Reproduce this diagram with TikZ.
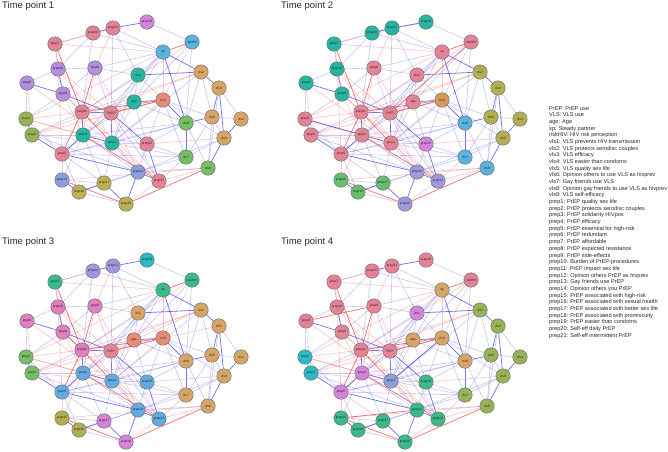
\documentclass[tikz,border=0pt]{standalone}
\usepackage{fontspec}
\setmainfont{Liberation Sans}
\pgfdeclarelayer{edges}
\pgfsetlayers{edges,main}
\definecolor{cpink}{RGB}{229,131,150}
\definecolor{csalmon}{RGB}{228,140,118}
\definecolor{cpurple}{RGB}{181,142,224}
\definecolor{cmagenta}{RGB}{212,132,218}
\definecolor{cteal}{RGB}{38,182,160}
\definecolor{csky}{RGB}{90,178,222}
\definecolor{ctan}{RGB}{214,165,102}
\definecolor{cgreen}{RGB}{118,190,100}
\definecolor{colive}{RGB}{152,178,88}
\definecolor{cmustard}{RGB}{176,176,82}
\definecolor{cperi}{RGB}{140,158,222}
\definecolor{ckhaki}{RGB}{188,176,82}
\definecolor{clav}{RGB}{162,152,222}
\definecolor{cmint}{RGB}{102,190,112}
\definecolor{corange}{RGB}{214,152,92}
\definecolor{ccyan}{RGB}{44,186,198}
\definecolor{csea}{RGB}{58,186,140}
\definecolor{crosemag}{RGB}{224,126,190}
\definecolor{cblue}{RGB}{96,172,226}
\definecolor{cedgepos}{RGB}{60,60,230}
\definecolor{cedgeneg}{RGB}{236,60,60}
\definecolor{ctext}{RGB}{40,40,40}
\tikzset{
  varnode/.style={
    circle,
    draw=black!60,
    line width=0.4pt,
    minimum size=14.5pt,
    inner sep=0pt,
    font=\fontsize{3.3}{3.3}\selectfont,
    text=black!85
  },
  posS/.style={draw=cedgepos, line width=0.75pt, draw opacity=0.7},
  posF/.style={draw=cedgepos, line width=0.65pt, draw opacity=0.28},
  negS/.style={draw=cedgeneg, line width=0.75pt, draw opacity=0.7},
  negF/.style={draw=cedgeneg, line width=0.65pt, draw opacity=0.28},
  paneltitle/.style={anchor=west, inner sep=0pt, font=\fontsize{9.5}{11}\selectfont, text=ctext},
  legendtext/.style={anchor=north west, inner sep=0pt, align=left, text=ctext,
    font=\fontsize{5.6}{6.68}\selectfont}
}

\begin{document}
\begin{tikzpicture}[x=1pt,y=-1pt]
  \useasboundingbox (0,0) rectangle (668,451);
  % panel titles
  \node[paneltitle] (t1) at (2,6) {Time point 1};
  \node[paneltitle] (t2) at (281,6) {Time point 2};
  \node[paneltitle] (t3) at (2,242) {Time point 3};
  \node[paneltitle] (t4) at (281,242) {Time point 4};
  % same layout in every panel, colours per time point
  \foreach \n/\x/\y/\ca/\cb/\cc/\cd in {
      prep19/147/22/cmagenta/cteal/ccyan/cpink,
      prep21/113/28/cpink/cteal/clav/cpink,
      prep20/93/33/cpink/cteal/clav/cpink,
      prep7/55/44/cpink/cteal/csea/cpink,
      riskHIV/192/42/csky/cpink/csea/cpink,
      sp/163/52/csky/cpink/csea/ctan,
      prep10/58/69/cpurple/cteal/crosemag/cpink,
      prep6/95/68/cpurple/cpink/crosemag/cpink,
      vls1/138/75/cteal/cpink/ctan/cmagenta,
      vls2/201/72/ctan/cmustard/ctan/colive,
      prep8/27/83/cpurple/cteal/crosemag/cpink,
      prep9/63/94/cpurple/cteal/crosemag/cpink,
      vls3/219/88/ctan/cmustard/ctan/colive,
      age/134/102/cteal/cpink/csalmon/ctan,
      VLS/163/100/csalmon/corange/csalmon/ctan,
      prep11/82/112/cpink/cpink/crosemag/cpink,
      PrEP/111/113/cpink/cpink/cpink/cpink,
      prep2/26/119/colive/cpink/cgreen/ccyan,
      vls8/186/123/cgreen/csky/ctan/ctan,
      vls5/212/117/ctan/cmustard/ctan/colive,
      vls4/241/119/ctan/cmustard/ctan/colive,
      prep3/32/135/colive/cpink/cgreen/ccyan,
      prep4/83/135/cteal/cpink/cblue/cmagenta,
      prep1/112/143/cteal/cpink/cblue/cperi,
      prep13/147/144/cpink/cmagenta/cblue/csea,
      vls9/224/138/ctan/cmustard/ctan/colive,
      prep5/62/154/cpink/cpink/cblue/cmagenta,
      vls7/186/157/cgreen/csky/ctan/colive,
      vls6/208/168/cgreen/csky/ctan/colive,
      prep14/138/172/cperi/clav/cblue/csea,
      prep12/159/181/cpink/clav/cblue/csea,
      prep15/62/180/cperi/cmint/cmustard/csea,
      prep17/104/183/ckhaki/cmint/cmagenta/csea,
      prep16/79/192/ckhaki/cmint/cmustard/csea,
      prep18/126/204/ckhaki/clav/cmagenta/csea}{
    \node[varnode, fill=\ca] (a-\n) at (\x,\y) {\n};
    \node[varnode, fill=\cb] (b-\n) at (\x+279,\y) {\n};
    \node[varnode, fill=\cc] (c-\n) at (\x,\y+238) {\n};
    \node[varnode, fill=\cd] (d-\n) at (\x+279,\y+238) {\n};
  }
  \begin{pgfonlayer}{edges}
    \foreach \p in {a,b,c,d}{
      \foreach \u/\v/\s in {
          prep21/prep19/posS, prep20/prep21/posS, prep7/prep20/posF, prep7/prep21/negF,
          prep7/sp/negF, prep21/PrEP/posF, prep21/prep6/negF, prep21/vls1/posF,
          prep20/prep10/posF, prep20/prep11/posF, prep7/prep10/posF, prep7/prep11/negS,
          prep7/prep9/negF, prep10/prep8/posF, prep10/prep9/posS, prep10/prep5/negF,
          prep10/PrEP/negF, prep10/prep6/posF, prep6/prep11/negS, prep6/prep4/negF,
          prep6/prep9/posF, prep6/vls1/posF, prep8/prep9/posS, prep8/prep3/negF,
          prep8/prep2/posF, prep9/PrEP/posS, prep9/prep11/posF, prep9/prep2/posF,
          prep9/prep4/negF, sp/riskHIV/negS, sp/vls1/posF, sp/vls2/posS,
          sp/VLS/negF, sp/age/posF, sp/vls8/posS, sp/PrEP/posF,
          sp/prep4/posF, riskHIV/VLS/negF, riskHIV/age/posF, riskHIV/vls8/posF,
          vls1/vls2/posS, vls1/PrEP/posF, vls1/prep1/posF, vls1/prep11/posF,
          age/VLS/posS, age/PrEP/negF, age/prep11/posF, age/prep13/posF,
          age/prep4/posF, VLS/vls8/posS, VLS/vls9/posF, VLS/PrEP/negS,
          VLS/prep1/negF, VLS/vls7/posF, VLS/prep13/posF, VLS/prep3/negF,
          VLS/vls5/posF, vls2/vls3/posS, vls2/vls5/posF, vls2/vls8/posF,
          vls2/prep11/negF, vls2/prep1/posF, vls3/vls4/posF, vls3/vls5/posS,
          vls3/vls9/posS, vls3/vls6/posF, vls4/vls5/posF, vls4/vls9/posS,
          vls5/vls9/posF, vls5/vls8/posS, vls5/vls6/posF, vls5/vls7/posF,
          vls9/vls6/posS, vls9/vls7/posF, vls9/prep13/negF, vls8/vls7/posS,
          vls8/vls6/posF, vls8/prep4/posF, vls8/prep1/posF, vls7/prep14/posF,
          vls7/prep12/negF, vls6/prep12/negF, vls6/prep18/negS, vls6/prep14/posF,
          prep11/PrEP/posS, prep11/prep4/posS, prep11/prep5/negS, prep11/prep1/negS,
          prep11/prep3/posF, prep11/prep2/negF, PrEP/prep1/posS, PrEP/prep4/negF,
          PrEP/prep5/posF, PrEP/prep13/posS, PrEP/prep12/posF, PrEP/prep14/negF,
          prep2/prep3/posS, prep2/prep4/negF, prep3/prep4/posF, prep3/prep5/posS,
          prep3/prep1/negF, prep4/prep1/posS, prep4/prep5/posS, prep4/prep14/posF,
          prep4/prep13/posF, prep4/prep12/negS, prep1/prep13/posF, prep1/prep14/posF,
          prep1/prep12/negF, prep1/prep17/posF, prep1/prep5/posF, prep5/prep15/negF,
          prep5/prep14/posS, prep5/prep17/posF, prep5/prep16/posF, prep13/prep14/posF,
          prep13/prep12/posS, prep14/prep12/posS, prep14/prep17/posF, prep14/prep18/posS,
          prep15/prep16/posS, prep15/prep18/negS, prep15/prep17/posF, prep16/prep17/posS,
          prep17/prep18/posS, prep18/prep12/negF, prep16/prep18/posF, prep15/prep4/negF,
          prep17/prep4/posF,
          riskHIV/prep11/negF, sp/prep2/negF, VLS/prep11/negS, vls2/prep3/negF,
          prep9/prep12/negF, prep6/prep12/negF, prep10/prep14/negF, prep8/prep1/negF,
          prep15/vls6/negF, prep20/sp/posF, prep6/sp/posF, prep19/riskHIV/posF,
          prep5/vls7/posF, prep5/vls8/posF, prep3/prep14/posF, prep2/prep5/posF,
          prep16/prep14/posF, prep14/vls9/posF, age/vls8/posF, age/prep1/posF,
          prep1/vls7/posF, prep13/vls7/posF, prep13/vls8/posF, vls1/age/posF,
          vls1/VLS/posF, prep21/sp/posF, prep6/PrEP/posF, prep2/prep1/negF}{
        \draw[\s] (\p-\u) -- (\p-\v);
      }
    }
    % a few ties that differ between time points
    \draw[posS] (b-prep2) -- (b-prep4);
    \draw[posF] (b-prep19) -- (b-prep20);
    \draw[negS] (b-riskHIV) -- (b-PrEP);
    \draw[negS] (c-prep11) -- (c-prep9);
    \draw[negF] (c-age) -- (c-vls2);
    \draw[negF] (c-VLS) -- (c-vls3);
    \draw[negS] (d-prep8) -- (d-prep6);
    \draw[posS] (d-prep1) -- (d-VLS);
    \draw[negS] (d-prep15) -- (d-prep14);
  \end{pgfonlayer}
  % legend
  \node[legendtext] (legend) at (549,106) {%
    PrEP: PrEP use\\
    VLS: VLS use\\
    age: Age\\
    sp: Steady partner\\
    riskHIV: HIV risk perception\\
    vls1: VLS prevents HIV-transmission\\
    vls2: VLS protects serodisc couples\\
    vls3: VLS efficacy\\
    vls4: VLS easier than condoms\\
    vls5: VLS quality sex life\\
    vls6: Opinion others to use VLS as hivprev\\
    vls7: Gay friends use VLS\\
    vls8: Opinion gay friends to use VLS as hivprev\\
    vls9: VLS self-efficacy\\
    prep1: PrEP quality sex life\\
    prep2: PrEP protects serodisc couples\\
    prep3: PrEP solidarity HIVpos\\
    prep4: PrEP efficacy\\
    prep5: PrEP essential for high-risk\\
    prep6: PrEP redundant\\
    prep7: PrEP affordable\\
    prep8: PrEP expected resistance\\
    prep9: PrEP side-effects\\
    prep10: Burden of PrEP-procedures\\
    prep11: PrEP impact sex life\\
    prep12: Opinion others PrEP as hivprev\\
    prep13: Gay friends use PrEP\\
    prep14: Opinion others you PrEP\\
    prep15: PrEP associated with high-risk\\
    prep16: PrEP associated with sexual health\\
    prep17: PrEP associated with better sex life\\
    prep18: PrEP associated with promiscuity\\
    prep19: PrEP easier than condoms\\
    prep20: Self-eff daily PrEP\\
    prep21: Self-eff intermittent PrEP};
\end{tikzpicture}
\end{document}
